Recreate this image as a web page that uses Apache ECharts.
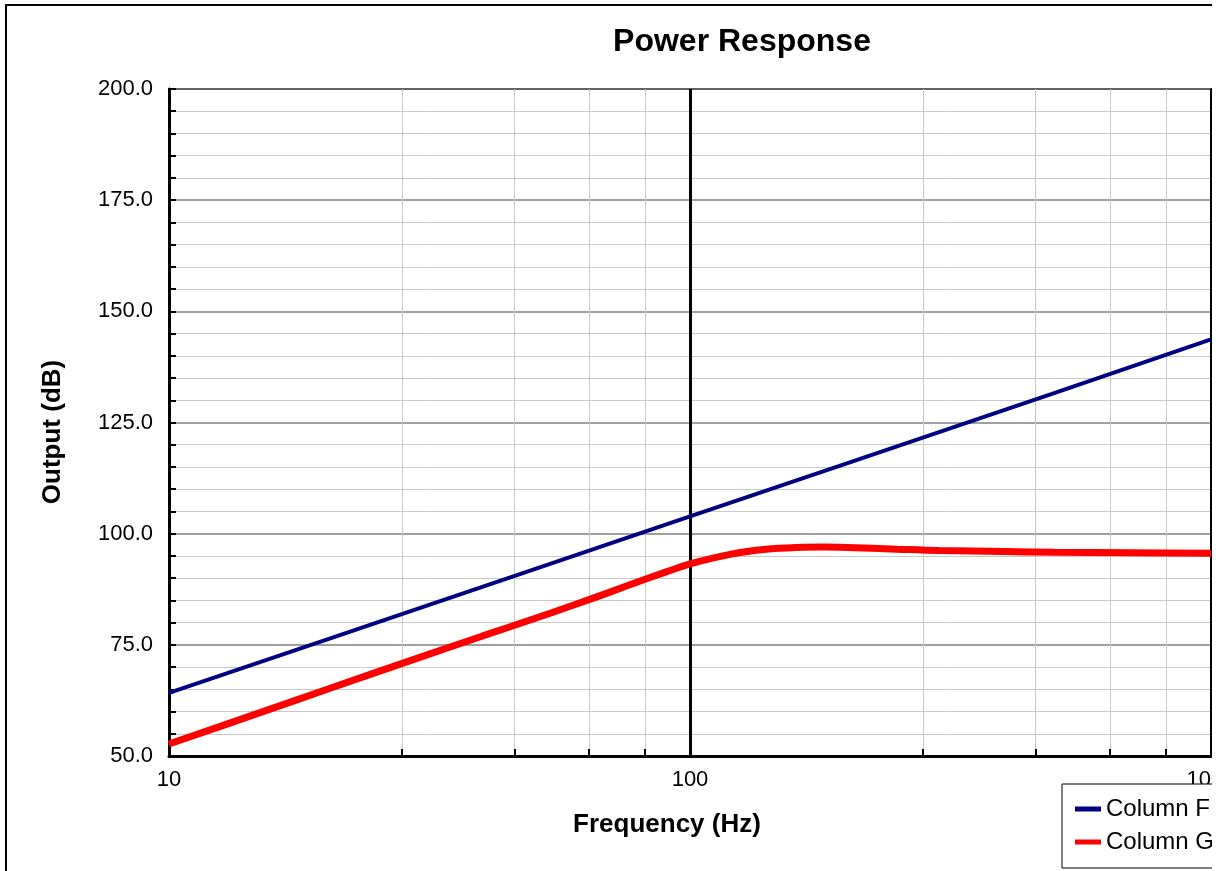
<!DOCTYPE html>
<html>
<head>
<meta charset="utf-8">
<script src="https://cdn.jsdelivr.net/npm/echarts@6/dist/echarts.min.js"></script>
<style>
html,body{margin:0;padding:0;background:#fff;}
#clip{width:1212px;height:871px;overflow:hidden;position:relative;}
#main{width:1300px;height:871px;position:absolute;left:0;top:0;}
</style>
</head>
<body>
<div id="clip"><div id="main"></div></div>
<script>
// ---- data ----
const seriesNames = ['Column F', 'Column G'];
const blueFreq = [10, 20, 50, 100, 200, 500, 1000];
const blueVals = [64.2, 76.1, 91.9, 103.9, 115.8, 131.6, 143.7];
const redFreq = [10, 15, 20, 30, 40, 50, 60, 70, 80, 90, 100, 120, 140, 160, 180, 200, 250, 300, 400, 500, 700, 1000];
const redVals = [52.7, 59.8, 64.9, 72.0, 77.0, 80.8, 84.0, 86.8, 89.3, 91.4, 93.2, 95.4, 96.5, 96.9, 97.0, 96.9, 96.5, 96.2, 96.0, 95.8, 95.7, 95.6];
const yTicks = [50, 75, 100, 125, 150, 175, 200];
const titleText = 'Power Response';
const xName = 'Frequency (Hz)';
const yName = 'Output (dB)';

const chart = echarts.init(document.getElementById('main'), null, {renderer: 'canvas'});
const FONT = 'Liberation Sans, Arial, sans-serif';

const option = {
  backgroundColor: '#fff',
  animation: false,
  grid: {left: 169, top: 89, right: 89, bottom: 115, show: true, borderColor: '#000', borderWidth: 2, backgroundColor: 'transparent'},
  graphic: [
    {type: 'rect', shape: {x: 6, y: 5, width: 1400, height: 1000}, style: {fill: 'none', stroke: '#000', lineWidth: 2}, z: -1},
    {type: 'text', x: 742, y: 42, style: {text: titleText, font: 'bold 32px ' + FONT, fill: '#000', align: 'center', verticalAlign: 'middle'}},
    {type: 'text', x: 667, y: 825, style: {text: xName, font: 'bold 26px ' + FONT, fill: '#000', align: 'center', verticalAlign: 'middle'}},
    {type: 'text', x: 53, y: 432, rotation: Math.PI / 2, style: {text: yName, font: 'bold 26px ' + FONT, fill: '#000', align: 'center', verticalAlign: 'middle'}}
  ],
  legend: {
    orient: 'vertical', left: 1062, top: 784,
    data: seriesNames,
    icon: 'rect', itemWidth: 26, itemHeight: 5, itemGap: 9,
    padding: [13, 30, 14, 13],
    backgroundColor: '#fff', borderColor: '#000', borderWidth: 1,
    textStyle: {fontFamily: FONT, fontSize: 24, color: '#000'}
  },
  xAxis: {
    type: 'log', logBase: 10, min: 10, max: 1000,
    axisLine: {show: true, lineStyle: {color: '#000', width: 3}},
    axisTick: {show: true, inside: true, length: 7, lineStyle: {color: '#000', width: 2}},
    minorTick: {show: true, splitNumber: 5, length: 7, lineStyle: {color: '#000', width: 2}},
    splitLine: {show: true, lineStyle: {color: '#000', width: 3}},
    minorSplitLine: {show: true, lineStyle: {color: '#c8c8c8', width: 1}},
    axisLabel: {fontFamily: FONT, fontSize: 22, color: '#000', margin: 13, formatter: v => String(Math.round(v))}
  },
  yAxis: {
    type: 'value', min: yTicks[0], max: yTicks[yTicks.length - 1], interval: 25,
    axisLine: {show: true, lineStyle: {color: '#000', width: 3}},
    axisTick: {show: true, inside: true, length: 7, lineStyle: {color: '#000', width: 2}},
    minorTick: {show: true, splitNumber: 5, length: 7, lineStyle: {color: '#000', width: 2}},
    splitLine: {show: true, lineStyle: {color: '#808080', width: 1.5}},
    minorSplitLine: {show: true, lineStyle: {color: '#c8c8c8', width: 1}},
    axisLabel: {fontFamily: FONT, fontSize: 22, color: '#000', margin: 16, padding: [4, 0, 0, 0], formatter: v => v.toFixed(1)}
  },
  series: [
    {name: seriesNames[0], type: 'line', data: blueFreq.map((f, i) => [f, blueVals[i]]), symbol: 'none', smooth: false,
     lineStyle: {color: '#000080', width: 4}, itemStyle: {color: '#000080'}, z: 3},
    {name: seriesNames[1], type: 'line', data: redFreq.map((f, i) => [f, redVals[i]]), symbol: 'none', smooth: 0.3,
     lineStyle: {color: '#ff0000', width: 7}, itemStyle: {color: '#ff0000'}, z: 4}
  ]
};
chart.setOption(option);
</script>
</body>
</html>
